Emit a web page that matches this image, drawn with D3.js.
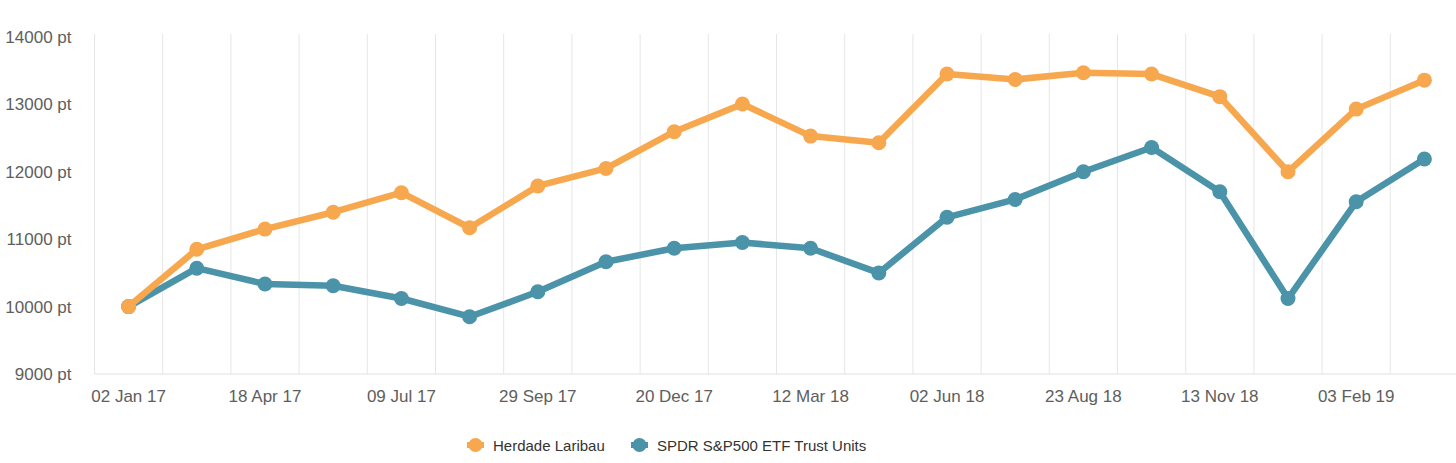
<!DOCTYPE html>
<html>
<head>
<meta charset="utf-8">
<script src="https://cdn.jsdelivr.net/npm/d3@7"></script>
<style>
  body { margin: 0; background: #fff; }
  svg text { font-family: "Liberation Sans", Arial, sans-serif; }
</style>
</head>
<body>
<svg id="chart" width="1456" height="463"></svg>
<script>
var categories = ["02 Jan 17", "08 Mar 17", "18 Apr 17", "29 May 17", "09 Jul 17", "19 Aug 17",
                  "29 Sep 17", "09 Nov 17", "20 Dec 17", "30 Jan 18", "12 Mar 18", "22 Apr 18",
                  "02 Jun 18", "13 Jul 18", "23 Aug 18", "03 Oct 18", "13 Nov 18", "24 Dec 18",
                  "03 Feb 19", "16 Mar 19"]
var herdade = [10000, 10850, 11150, 11400, 11690, 11170, 11790, 12050, 12595, 13005,
               12530, 12430, 13450, 13370, 13470, 13450, 13115, 12000, 12930, 13360]
var spdr = [10000, 10570, 10335, 10310, 10120, 9850, 10220, 10665, 10865, 10950,
            10865, 10500, 11325, 11590, 12000, 12360, 11705, 10120, 11555, 12190]
var yTicks = [9000, 10000, 11000, 12000, 13000, 14000]
var seriesNames = ["Herdade Laribau", "SPDR S&P500 ETF Trust Units"]
var seriesColors = ["#f7a84f", "#4a93a8"]

var svg = d3.select("#chart")

var plotLeft = 94.5, plotRight = 1458.5, plotTop = 37, plotBottom = 374

var x = d3.scaleBand()
  .domain(categories)
  .range([plotLeft, plotRight])

var y = d3.scaleLinear()
  .domain([9000, 14000])
  .range([plotBottom, plotTop])

// vertical grid lines at band edges
svg.append("g")
  .selectAll("line")
  .data(categories)
  .enter()
  .append("line")
    .attr("x1", function(d) { return x(d) })
    .attr("x2", function(d) { return x(d) })
    .attr("y1", plotTop - 3)
    .attr("y2", plotBottom)
    .style("stroke", "#e6e6e6")
    .style("stroke-width", 1)

// baseline
svg.append("line")
  .attr("x1", plotLeft).attr("x2", plotRight)
  .attr("y1", plotBottom).attr("y2", plotBottom)
  .style("stroke", "#e0e0e0")
  .style("stroke-width", 1)

// x axis
var xAxis = d3.axisBottom(x)
  .tickValues(categories.filter(function(d, i) { return i % 2 == 0 }))
  .tickSize(0)
  .tickPadding(16)

var gx = svg.append("g")
  .attr("transform", "translate(0," + plotBottom + ")")
  .call(xAxis)
gx.select(".domain").remove()
gx.selectAll("text")
  .attr("font-size", 17)
  .attr("fill", "#5e5e5e")

// y axis
var yAxis = d3.axisLeft(y)
  .tickValues(yTicks)
  .tickSize(0)
  .tickPadding(23)
  .tickFormat(function(d) { return d + " pt" })

var gy = svg.append("g")
  .attr("transform", "translate(" + plotLeft + ",0)")
  .call(yAxis)
gy.select(".domain").remove()
gy.selectAll("text")
  .attr("font-size", 17)
  .attr("fill", "#5e5e5e")

var line = d3.line()
  .x(function(d, i) { return x(categories[i]) + x.bandwidth() / 2 })
  .y(function(d) { return y(d) })

var allSeries = [herdade, spdr]

// draw blue first so orange sits on top at the start point
for (var s = allSeries.length - 1; s >= 0; s--) {
  var g = svg.append("g")
  g.append("path")
    .attr("d", line(allSeries[s]))
    .style("fill", "none")
    .style("stroke", seriesColors[s])
    .style("stroke-width", 6.5)
    .style("stroke-linejoin", "round")
  g.selectAll("circle")
    .data(allSeries[s])
    .enter()
    .append("circle")
      .attr("cx", function(d, i) { return x(categories[i]) + x.bandwidth() / 2 })
      .attr("cy", function(d) { return y(d) })
      .attr("r", 7.5)
      .style("fill", seriesColors[s])
}

// legend
var legend = svg.append("g").attr("transform", "translate(0,445)")
var legendX = [467, 631]
seriesNames.forEach(function(name, i) {
  var item = legend.append("g").attr("transform", "translate(" + legendX[i] + ",0)")
  item.append("line")
    .attr("x1", 0).attr("x2", 17)
    .attr("y1", 0).attr("y2", 0)
    .style("stroke", seriesColors[i])
    .style("stroke-width", 6)
  item.append("circle")
    .attr("cx", 8.5).attr("cy", 0).attr("r", 7)
    .style("fill", seriesColors[i])
  item.append("text")
    .attr("x", 26)
    .attr("y", 5.5)
    .attr("font-size", 15)
    .attr("fill", "#333")
    .text(name)
})
</script>
</body>
</html>
